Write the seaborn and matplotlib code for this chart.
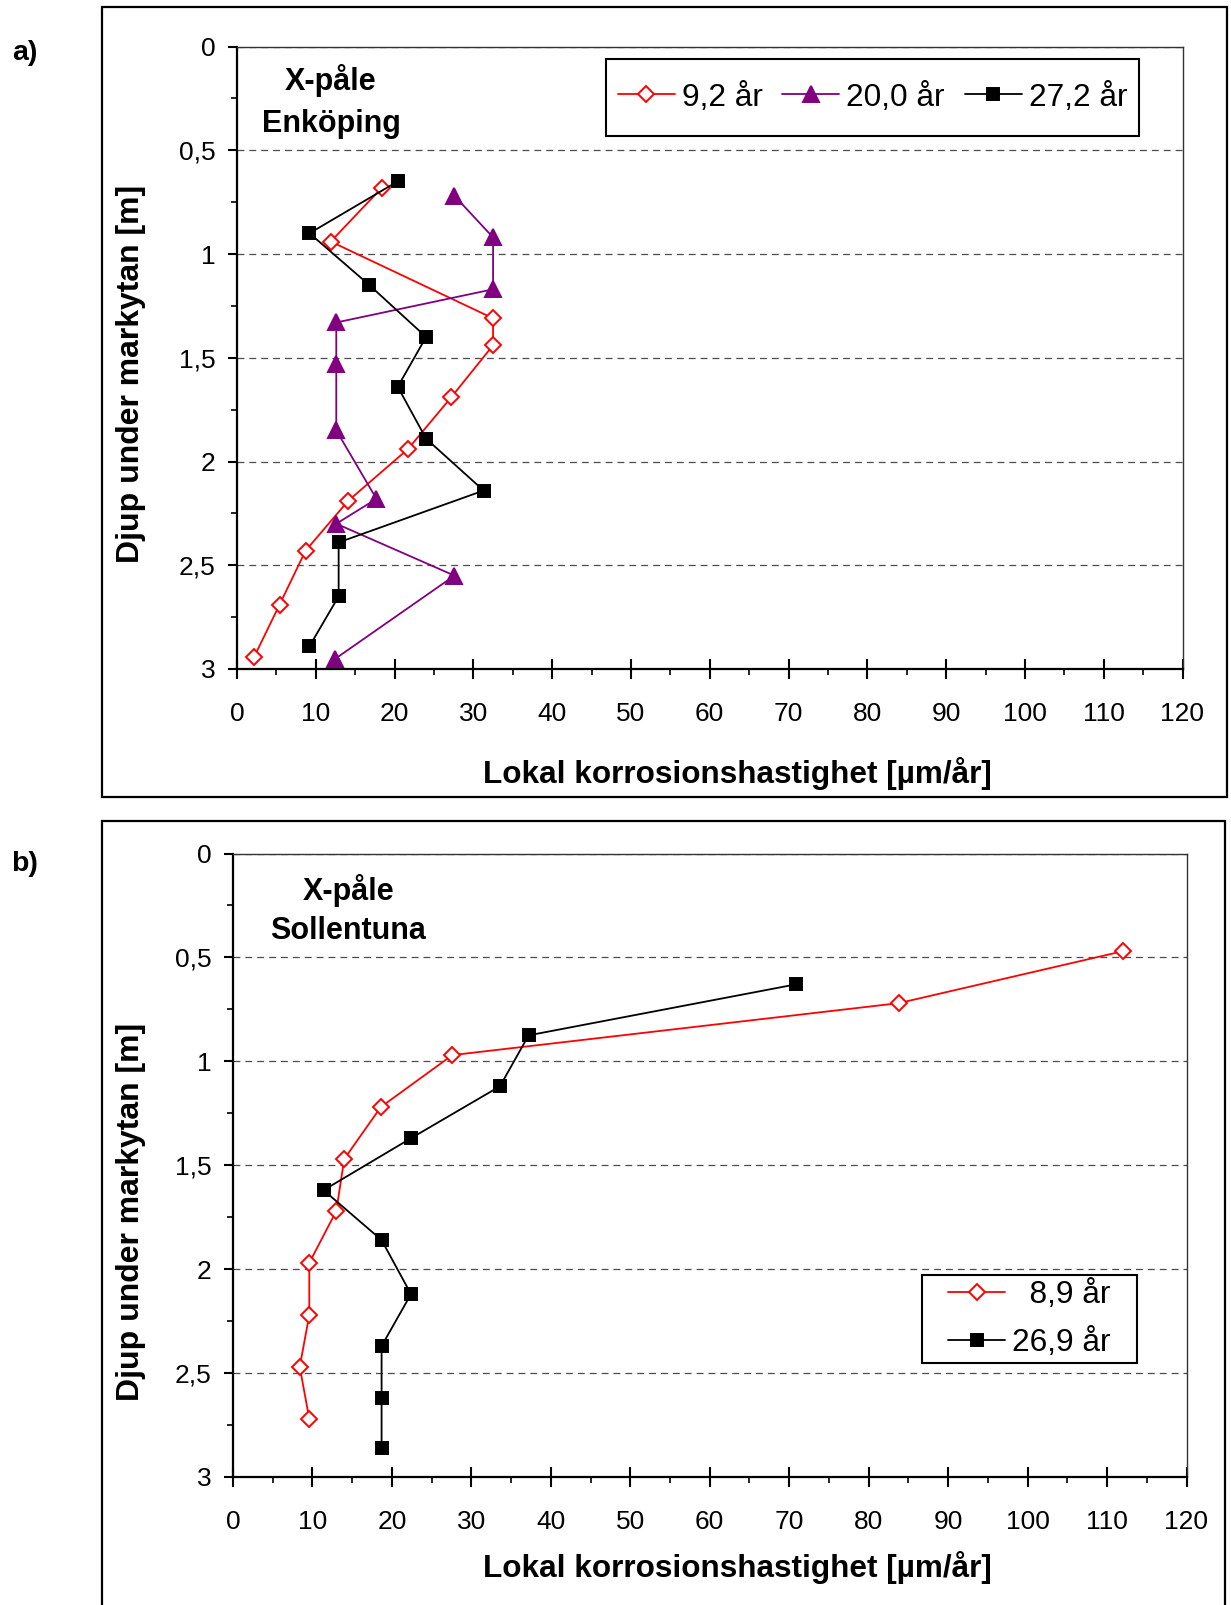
import numpy as np
import pandas as pd
import matplotlib
matplotlib.use("Agg")
import matplotlib.pyplot as plt
from matplotlib.patches import Rectangle
from matplotlib.ticker import MultipleLocator, FixedLocator, FixedFormatter
import seaborn as sns

# ---- Enköping (a) ----
depth_a_92 = [0.68, 0.94, 1.31, 1.44, 1.69, 1.94, 2.19, 2.43, 2.69, 2.94]
rate_a_92 = [18.4, 11.9, 32.5, 32.5, 27.2, 21.7, 14.1, 8.7, 5.4, 2.2]
depth_a_200 = [0.72, 0.92, 1.17, 1.33, 1.53, 1.85, 2.18, 2.30, 2.55, 2.95]
rate_a_200 = [27.6, 32.5, 32.5, 12.6, 12.6, 12.6, 17.7, 12.6, 27.6, 12.5]
depth_a_272 = [0.65, 0.90, 1.15, 1.40, 1.64, 1.89, 2.14, 2.39, 2.65, 2.89]
rate_a_272 = [20.4, 9.2, 16.8, 24.0, 20.4, 24.0, 31.3, 12.9, 12.9, 9.2]

# ---- Sollentuna (b) ----
depth_b_89 = [0.47, 0.72, 0.97, 1.22, 1.47, 1.72, 1.97, 2.22, 2.47, 2.72]
rate_b_89 = [112.0, 83.8, 27.6, 18.6, 14.0, 13.0, 9.6, 9.6, 8.4, 9.6]
depth_b_269 = [0.63, 0.875, 1.12, 1.37, 1.62, 1.86, 2.12, 2.37, 2.62, 2.86]
rate_b_269 = [70.8, 37.2, 33.6, 22.4, 11.4, 18.7, 22.4, 18.7, 18.7, 18.7]

labels_a = ["9,2 år", "20,0 år", "27,2 år"]
labels_b = ["  8,9 år", "26,9 år"]

xticks = list(range(0, 121, 10))
yticks = [0, 0.5, 1, 1.5, 2, 2.5, 3]
ytick_labels = ["0", "0,5", "1", "1,5", "2", "2,5", "3"]

xlabel = "Lokal korrosionshastighet [µm/år]"
ylabel = "Djup under markytan [m]"

sns.set_theme(style="ticks")
plt.rcParams["font.family"] = ["Liberation Sans", "DejaVu Sans"]
plt.rcParams.update({"text.color": "black", "axes.labelcolor": "black",
                     "xtick.color": "black", "ytick.color": "black"})

RED = "#FF0000"
PURPLE = "#800080"
BLACK = "#000000"

fig = plt.figure(figsize=(12.31, 16.05), dpi=100)
W, H = 1231.0, 1605.0


def px_rect(l, t, r, b):
    return [l / W, 1 - b / H, (r - l) / W, (b - t) / H]


AX_A = (237, 46.5, 1182.5, 669)
AX_B = (233, 853.5, 1186.5, 1477)
ax_a = fig.add_axes(px_rect(*AX_A))
ax_b = fig.add_axes(px_rect(*AX_B))

# outer frames around each panel
fig.patches.append(Rectangle((102 / W, 1 - 797 / H), (1227 - 102) / W, (797 - 7) / H,
                             transform=fig.transFigure, fill=False, lw=1.6, ec="black"))
fig.patches.append(Rectangle((102 / W, -0.05), (1225 - 102) / W, 1 - 821 / H + 0.05,
                             transform=fig.transFigure, fill=False, lw=1.6, ec="black"))

fig.text(24.5 / W, 1 - 52.5 / H, "a)", fontsize=20.5, fontweight="bold", ha="center", va="center")
fig.text(24.5 / W, 1 - 864 / H, "b)", fontsize=20.5, fontweight="bold", ha="center", va="center")


def series(ax, rate, depth, color, marker, ms, mfc, label):
    df = pd.DataFrame({"rate": rate, "depth": depth})
    sns.lineplot(data=df, x="rate", y="depth", sort=False, estimator=None, ax=ax,
                 color=color, lw=1.3, marker=marker, markersize=ms,
                 markerfacecolor=mfc, markeredgecolor=color, markeredgewidth=1.4,
                 label=label, legend=False)


def style_axes(ax):
    ax.set_xlim(0, 120)
    ax.set_ylim(3, 0)
    ax.xaxis.set_major_locator(FixedLocator(xticks))
    ax.xaxis.set_minor_locator(MultipleLocator(5))
    ax.yaxis.set_major_locator(FixedLocator(yticks))
    ax.yaxis.set_major_formatter(FixedFormatter(ytick_labels))
    ax.yaxis.set_minor_locator(MultipleLocator(0.25))
    ax.tick_params(axis="x", which="major", direction="inout", length=14, width=1.5,
                   labelsize=19, pad=17)
    ax.tick_params(axis="x", which="minor", direction="out", length=4.2, width=1.2)
    ax.tick_params(axis="y", which="major", direction="out", length=6.5, width=1.5,
                   labelsize=19, pad=9)
    ax.tick_params(axis="y", which="minor", direction="out", length=4.3, width=1.2)
    ax.tick_params(top=False, right=False)
    for s in ("left", "bottom"):
        ax.spines[s].set_linewidth(1.6)
        ax.spines[s].set_color("black")
    for s in ("top", "right"):
        ax.spines[s].set_linewidth(1.0)
        ax.spines[s].set_color("#333333")
    ax.yaxis.grid(True, which="major", color="#4d4d4d", lw=0.9, ls=(0, (5.5, 4)))
    ax.xaxis.grid(False)
    ax.set_facecolor("white")
    ax.set_xlabel(xlabel, fontsize=22.7, fontweight="bold")
    ax.set_ylabel(ylabel, fontsize=23, fontweight="bold")


def boxed_legend(ax, axbox, box, ncol, **kw):
    """Legend centred in a fixed pixel box, with a plain rectangular frame."""
    l, t, r, b = axbox
    bl, bt, br, bb = box
    x0 = (bl - l) / (r - l)
    x1 = (br - l) / (r - l)
    y0 = 1 - (bb - t) / (b - t)
    y1 = 1 - (bt - t) / (b - t)
    ax.add_patch(Rectangle((x0, y0), x1 - x0, y1 - y0, transform=ax.transAxes,
                           fc="white", ec="black", lw=1.5, zorder=5, clip_on=False))
    leg = ax.legend(loc="center", bbox_to_anchor=((x0 + x1) / 2, (y0 + y1) / 2),
                    ncol=ncol, frameon=False, fontsize=22.8, handlelength=1.8,
                    handletextpad=0.22, borderpad=0, borderaxespad=0, **kw)
    leg.set_zorder(6)
    return leg


# panel a
series(ax_a, rate_a_92, depth_a_92, RED, "D", 7.8, "white", labels_a[0])
series(ax_a, rate_a_200, depth_a_200, PURPLE, "^", 12, PURPLE, labels_a[1])
series(ax_a, rate_a_272, depth_a_272, BLACK, "s", 8.6, BLACK, labels_a[2])
style_axes(ax_a)
ax_a.xaxis.set_label_coords(0.529, -(773.6 - 669) / 622.5)
ax_a.xaxis.label.set_va("center")
ax_a.yaxis.set_label_coords((131 - 237) / 945.5, 1 - (374 - 46.5) / 622.5)
ax_a.yaxis.label.set_va("center")
ax_a.text(0.0994, 0.946, "X-påle", transform=ax_a.transAxes, fontsize=22, fontweight="bold",
          ha="center", va="center")
ax_a.text(0.0994, 0.875, "Enköping", transform=ax_a.transAxes, fontsize=22, fontweight="bold",
          ha="center", va="center")
boxed_legend(ax_a, AX_A, (606, 59, 1139, 136), 3, columnspacing=0.62)

# panel b
series(ax_b, rate_b_89, depth_b_89, RED, "D", 7.8, "white", labels_b[0])
series(ax_b, rate_b_269, depth_b_269, BLACK, "s", 8.6, BLACK, labels_b[1])
style_axes(ax_b)
ax_b.xaxis.set_label_coords(0.5286, -(1568 - 1477) / 623.5)
ax_b.xaxis.label.set_va("center")
ax_b.yaxis.set_label_coords((131 - 233) / 953.5, 1 - (1212 - 853.5) / 623.5)
ax_b.yaxis.label.set_va("center")
ax_b.text(0.1215, 0.940, "X-påle", transform=ax_b.transAxes, fontsize=22, fontweight="bold",
          ha="center", va="center")
ax_b.text(0.1206, 0.876, "Sollentuna", transform=ax_b.transAxes, fontsize=22, fontweight="bold",
          ha="center", va="center")
boxed_legend(ax_b, AX_B, (922, 1275, 1137, 1363), 1, labelspacing=0.56)

fig.savefig("out.png", dpi=100, facecolor="white")
